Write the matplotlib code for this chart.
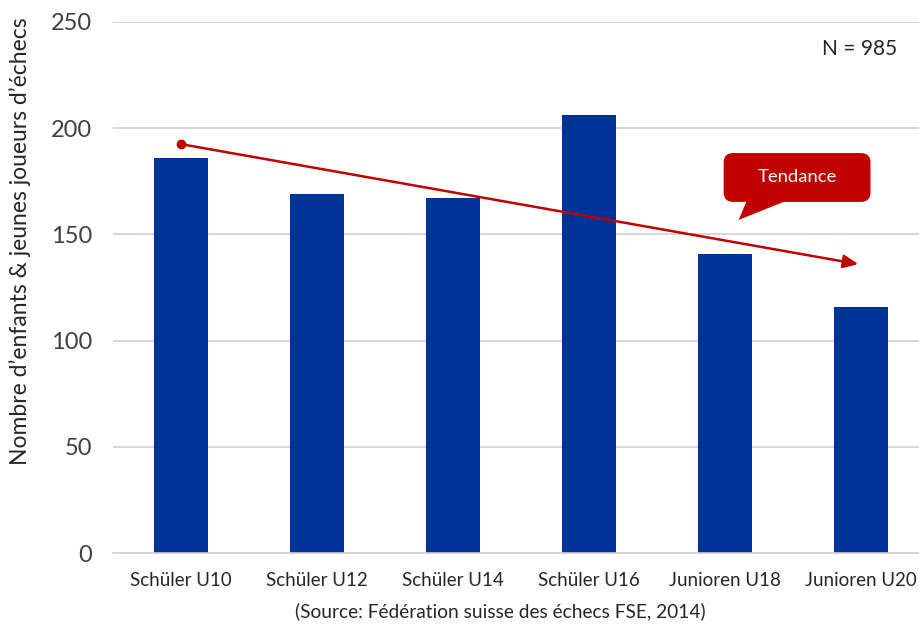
import numpy as np
import matplotlib
matplotlib.use("Agg")
from matplotlib import pyplot as plt
from matplotlib.patches import FancyBboxPatch, Polygon

categories = ["Schüler U10", "Schüler U12", "Schüler U14", "Schüler U16", "Junioren U18", "Junioren U20"]
counts = [186, 169, 167, 206, 141, 116]
trend_start = (0, 192.5)
trend_end = (4.98, 136)
yticks = [0, 50, 100, 150, 200, 250]

plt.rcParams['font.family'] = ['Lato', 'DejaVu Sans']

fig = plt.figure(figsize=(9.2, 6.25), dpi=100)
ax = fig.add_axes([113 / 920, 72 / 625, 807 / 920, 531 / 625])

x = np.arange(len(categories))
ax.bar(x, counts, width=0.4, color="#003399", zorder=2)

ax.set_xlim(-0.5, -0.5 + 807 / 136)
ax.set_ylim(0, 250)
ax.set_yticks(yticks)
ax.set_xticks(x)
ax.set_xticklabels(categories, fontsize=13.5, color="#262626")
ax.tick_params(axis="y", labelsize=17, colors="#404040", length=0, pad=15)
ax.tick_params(axis="x", length=0, pad=14)
ax.grid(axis="y", color="#D0D0D0", linewidth=1.2, zorder=0)
for s in ["top", "right", "left"]:
    ax.spines[s].set_visible(False)
ax.spines["bottom"].set_color("#D0D0D0")
ax.spines["bottom"].set_linewidth(1.2)

ax.set_ylabel("Nombre d\u2019enfants & jeunes joueurs d\u2019échecs", fontsize=16.5, color="#262626")
ax.yaxis.set_label_coords(-0.101, 0.588)

# trend arrow
ax.annotate("", xy=trend_end, xytext=trend_start,
            arrowprops=dict(arrowstyle="-|>,head_length=0.9,head_width=0.4", color="#C00000", lw=1.8,
                            shrinkA=0, shrinkB=0), zorder=4)
ax.plot([trend_start[0]], [trend_start[1]], "o", color="#C00000", ms=6, zorder=5)

# callout "Tendance"
asp = 136 / 2.124
box = FancyBboxPatch((3.99, 165.3), 1.08, 23.0,
                     boxstyle="round,pad=0,rounding_size=0.07", mutation_aspect=asp,
                     fc="#C00000", ec="none", zorder=5)
ax.add_patch(box)
ax.add_patch(Polygon([(4.16, 165.8), (4.10, 156.8), (4.45, 165.8)], closed=True,
                     fc="#C00000", ec="none", zorder=5))
ax.text(4.53, 176.8, "Tendance", color="white", fontsize=13.3, ha="center", va="center", zorder=6)

ax.text(4.99, 237.3, "N = 985", fontsize=15, color="#262626", ha="center", va="center")

fig.text(500 / 920, 1 - 611 / 625, "(Source: Fédération suisse des échecs FSE, 2014)",
         fontsize=13.8, color="#262626", ha="center", va="center")

fig.savefig("out.png", dpi=100)
